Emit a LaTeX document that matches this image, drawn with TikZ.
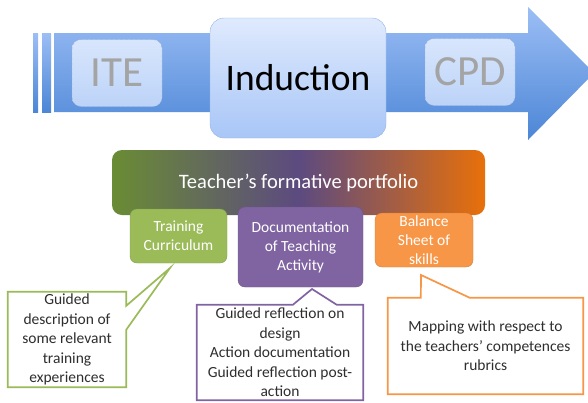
\documentclass[tikz,border=0pt]{standalone}
\usepackage{fontspec}
\setmainfont{Carlito}
\usetikzlibrary{calc,backgrounds}

\definecolor{arrowtop}{HTML}{9CBEF5}
\definecolor{arrowbottom}{HTML}{4C86D6}
\definecolor{stagetop}{HTML}{D8E6FC}
\definecolor{stagebottom}{HTML}{BCD3F8}
\definecolor{stageline}{HTML}{98AFD8}
\definecolor{stagetext}{HTML}{A4A4A4}
\definecolor{maintop}{HTML}{DFEAFD}
\definecolor{mainbottom}{HTML}{A8C6F7}
\definecolor{mainline}{HTML}{93B3E6}
\definecolor{portleft}{HTML}{6A8C34}
\definecolor{portmiddle}{HTML}{5C4A80}
\definecolor{portright}{HTML}{E8700A}
\definecolor{partgreen}{HTML}{9BBB59}
\definecolor{partpurple}{HTML}{8064A2}
\definecolor{partorange}{HTML}{F79646}
\definecolor{calloutink}{HTML}{2E2E2E}

\begin{document}
\begin{tikzpicture}[x=1pt,y=-1pt,
    stagebox/.style={rectangle,rounded corners=9pt,draw=stageline,densely dashed,top color=stagetop,bottom color=stagebottom,inner sep=0pt,minimum width=90pt,minimum height=67pt,text=stagetext,font=\fontsize{43}{50}\selectfont},
    mainstage/.style={rectangle,rounded corners=14pt,draw=mainline,top color=maintop,bottom color=mainbottom,inner sep=0pt,minimum width=176pt,minimum height=120pt,font=\fontsize{37.5}{45}\selectfont},
    portfoliobar/.style={rectangle,rounded corners=10pt,left color=portleft,right color=portright,middle color=portmiddle,inner sep=0pt,minimum width=373pt,minimum height=65pt,text=white,font=\fontsize{20.5}{25}\selectfont},
    part/.style={rectangle,rounded corners=7pt,draw=#1!85!black,fill=#1,inner sep=0pt,text=white,align=center,font=\fontsize{15.5}{19}\selectfont},
    callouttext/.style={rectangle,inner sep=0pt,align=center,text=calloutink,font=\fontsize{15.5}{19.5}\selectfont},
    calloutline/.style={draw=#1,line width=1.7pt,fill=white,line join=miter}
    ]

    \useasboundingbox (0,0) rectangle (588,402);

    \foreach \left/\right in {33/38,42/51}
      \shade[top color=arrowtop,bottom color=arrowbottom] (\left,33) rectangle (\right,112);
    \shade[top color=arrowtop,bottom color=arrowbottom] (54,33) -- (528,33) -- (528,7) -- (594,73) -- (528,140) -- (528,112) -- (54,112) -- cycle;

    \node (ite) [stagebox] at (117,73) {ITE};
    \node (cpd) [stagebox] at (470,72) {CPD};
    \node (induction) [mainstage] at (298,78) {Induction};

    \node (portfolio) [portfoliobar] at (298.5,182.5) {Teacher’s formative portfolio};

    \node (training) [part=partgreen,minimum width=97pt,minimum height=54pt] at (178.5,236) {Training\\Curriculum};
    \node (documentation) [part=partpurple,minimum width=125pt,minimum height=80pt] at (300.5,247) {Documentation\\of Teaching\\Activity};
    \node (balance) [part=partorange,minimum width=98pt,minimum height=54pt] at (424,240) {Balance\\Sheet of\\skills};

    \node (guided) [callouttext,minimum width=118pt,minimum height=95pt] at (67,339.5) {Guided\\description of\\some relevant\\training\\experiences};
    \node (reflection) [callouttext,minimum width=166pt,minimum height=95pt] at (280,352.5) {Guided reflection on\\design\\Action documentation\\Guided reflection post-\\action};
    \node (mapping) [callouttext,minimum width=195pt,minimum height=96pt] at (485.5,346) {Mapping with respect to\\the teachers’ competences\\rubrics};

    \coordinate (guidedtip) at (170,268);
    \coordinate (reflectiontip) at (312,289);
    \coordinate (mappingtip) at (421,275);

    \begin{scope}[on background layer]
      \draw[calloutline=partgreen] (guided.north west) -- (guided.north east) -- ($(guided.north east)+(0,14)$) -- (guidedtip) -- ($(guided.north east)+(0,38)$) -- (guided.south east) -- (guided.south west) -- cycle;
      \draw[calloutline=partpurple] (reflection.north west) -- ($(reflection.north west)+(96,0)$) -- (reflectiontip) -- ($(reflection.north west)+(140,0)$) -- (reflection.north east) -- (reflection.south east) -- (reflection.south west) -- cycle;
      \draw[calloutline=partorange] (mapping.north west) -- ($(mapping.north west)+(33,0)$) -- (mappingtip) -- ($(mapping.north west)+(82,0)$) -- (mapping.north east) -- (mapping.south east) -- (mapping.south west) -- cycle;
    \end{scope}

  \end{tikzpicture}
\end{document}
